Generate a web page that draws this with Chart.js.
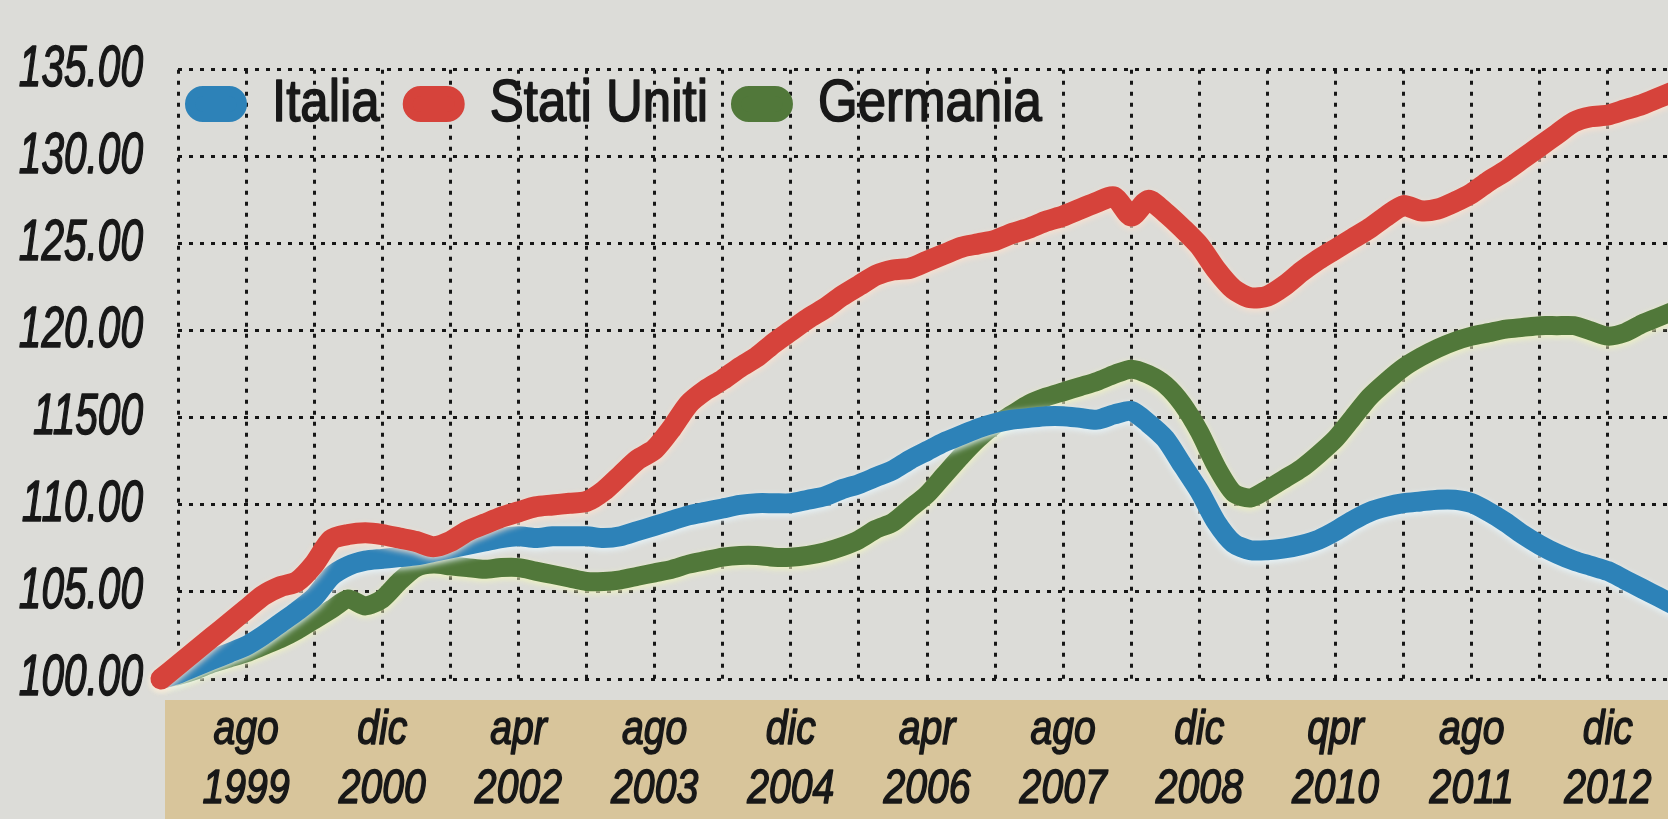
<!DOCTYPE html>
<html>
<head>
<meta charset="utf-8">
<script src="https://cdn.jsdelivr.net/npm/chart.js@4.4.0/dist/chart.umd.min.js"></script>
<style>
html, body { margin: 0; padding: 0; overflow: hidden; background: #dcdcd8; }
#wrap { position: relative; width: 1697px; height: 819px; }
</style>
</head>
<body>
<div id="wrap"><canvas id="c"></canvas></div>
<script>
// ---- data (2-month steps, from ott 1998) ----
const monthNames = ['gen','feb','mar','apr','mag','giu','lug','ago','set','ott','nov','dic'];
const categories = [];
for (let i = 0; i < 90; i++) {
  const t = 9 + 2 * i;
  categories.push(monthNames[t % 12] + ' ' + (1998 + Math.floor(t / 12)));
}

const italia = [
  100.0,100.3,100.7,101.1,101.5,101.9,102.5,103.2,103.9,104.7,
  105.9,106.5,106.8,106.9,107.0,107.1,107.3,107.5,107.7,107.9,
  108.1,108.2,108.1,108.2,108.2,108.2,108.1,108.2,108.5,108.8,
  109.1,109.4,109.6,109.8,110.0,110.1,110.1,110.1,110.3,110.5,
  110.9,111.2,111.6,112.0,112.6,113.1,113.6,114.0,114.4,114.7,
  114.9,115.0,115.1,115.1,115.0,114.9,115.2,115.4,114.7,113.8,
  112.3,110.8,109.0,107.8,107.4,107.4,107.5,107.7,108.0,108.5,
  109.1,109.6,109.9,110.1,110.2,110.3,110.3,110.1,109.6,109.0,
  108.3,107.7,107.2,106.8,106.5,106.2,105.7,105.2,104.7,104.2
];
const statiUniti = [
  100.0,100.8,101.6,102.4,103.2,104.0,104.8,105.3,105.6,106.6,
  108.0,108.3,108.4,108.3,108.1,107.9,107.6,107.9,108.5,108.9,
  109.3,109.6,109.9,110.0,110.1,110.2,110.8,111.7,112.6,113.2,
  114.4,115.8,116.6,117.2,117.9,118.5,119.3,120.0,120.7,121.3,
  122.0,122.6,123.2,123.5,123.6,124.0,124.4,124.8,125.0,125.2,
  125.6,125.9,126.3,126.6,127.0,127.4,127.7,126.6,127.5,126.8,
  125.9,124.9,123.5,122.4,121.9,122.0,122.6,123.4,124.1,124.7,
  125.3,125.9,126.6,127.2,126.9,127.0,127.4,127.9,128.6,129.2,
  129.9,130.6,131.3,132.0,132.3,132.4,132.7,133.0,133.4,133.8
];
const germania = [
  100.0,100.2,100.5,100.9,101.2,101.5,101.9,102.3,102.8,103.4,
  104.0,104.6,104.2,104.6,105.6,106.4,106.6,106.5,106.4,106.3,
  106.4,106.4,106.2,106.0,105.8,105.6,105.6,105.7,105.9,106.1,
  106.3,106.6,106.8,107.0,107.1,107.1,107.0,107.0,107.1,107.3,
  107.6,108.0,108.6,109.0,109.8,110.6,111.7,112.8,113.8,114.6,
  115.2,115.8,116.2,116.5,116.8,117.1,117.5,117.8,117.5,116.9,
  115.8,114.2,112.2,110.7,110.4,110.9,111.5,112.1,112.9,113.8,
  115.0,116.2,117.1,117.9,118.5,119.0,119.4,119.7,119.9,120.1,
  120.2,120.3,120.3,120.3,120.0,119.7,119.9,120.4,120.8,121.2
];

const xTickMonths = ['ago','dic','apr','ago','dic','apr','ago','dic','qpr','ago','dic'];
const xTickYears  = ['1999','2000','2002','2003','2004','2006','2007','2008','2010','2011','2012'];
const yTickLabels = ['100.00','105.00','110.00','11500','120.00','125.00','130.00','135.00'];

// ---- styling ----
const FONT = "'Liberation Sans', Arimo, Arial, sans-serif";
const INK = '#181818';
const GRID = '#161616';

// condensed newspaper lettering: squeeze text horizontally per font size, slightly heavier strokes
const TEXT_SQUEEZE = { 58: 0.70, 49: 0.80, 60: 0.85 };
const TEXT_WEIGHT_STROKE = 1.6;
const canvas = document.getElementById('c');
const ctx2d = canvas.getContext('2d');
const nativeFill = ctx2d.fillText.bind(ctx2d);
const nativeStroke = ctx2d.strokeText.bind(ctx2d);
const nativeMeasure = ctx2d.measureText.bind(ctx2d);
function squeezeFactor() {
  const m = /(\d+(?:\.\d+)?)px/.exec(ctx2d.font);
  const s = m ? Math.round(parseFloat(m[1])) : 0;
  return TEXT_SQUEEZE[s] || 1;
}
ctx2d.measureText = function (t) {
  const r = nativeMeasure(t);
  return { width: r.width * squeezeFactor(), actualBoundingBoxAscent: r.actualBoundingBoxAscent, actualBoundingBoxDescent: r.actualBoundingBoxDescent };
};
ctx2d.fillText = function (t, x, y, mw) {
  const w = nativeMeasure(t).width * squeezeFactor();
  const W = (mw !== undefined && mw !== null) ? Math.min(mw, w) : w;
  nativeFill(t, x, y, W);
  ctx2d.save();
  ctx2d.strokeStyle = ctx2d.fillStyle;
  ctx2d.lineWidth = TEXT_WEIGHT_STROKE;
  ctx2d.lineJoin = 'round';
  ctx2d.setLineDash([]);
  nativeStroke(t, x, y, W);
  ctx2d.restore();
};

const bgPlugin = {
  id: 'bg',
  beforeDraw(chart) {
    const { ctx, width, height } = chart;
    ctx.save();
    ctx.fillStyle = '#dcdcd8';
    ctx.fillRect(0, 0, width, height);
    ctx.fillStyle = '#d8c59b';
    ctx.fillRect(165, 700, width - 165, height - 700);
    ctx.restore();
  }
};
const legendPlace = {
  id: 'legendPlace',
  afterLayout(chart) {
    const l = chart.legend;
    if (!l) return;
    l.left = 162;
    l.right = chart.width;
    l.top = 46;
    l.bottom = l.top + 110;
  }
};
const halo = {
  id: 'halo',
  beforeDatasetDraw(chart, args) {
    const ds = chart.data.datasets[args.index];
    const ctx = chart.ctx;
    ctx.save();
    ctx.shadowColor = ds.haloColor || 'rgba(0,0,0,0)';
    ctx.shadowBlur = 6;
    ctx.shadowOffsetX = 0;
    ctx.shadowOffsetY = 2;
  },
  afterDatasetDraw(chart) {
    chart.ctx.restore();
  }
};

new Chart(canvas, {
  type: 'line',
  data: {
    labels: categories,
    datasets: [
      { label: 'Italia', data: italia, borderColor: '#2d82b8', backgroundColor: '#2d82b8', borderWidth: 20, order: 2, haloColor: 'rgba(232,248,255,0.95)' },
      { label: 'Stati Uniti', data: statiUniti, borderColor: '#d6433b', backgroundColor: '#d6433b', borderWidth: 21, order: 1, haloColor: 'rgba(255,226,205,0.95)' },
      { label: 'Germania', data: germania, borderColor: '#51783a', backgroundColor: '#51783a', borderWidth: 19, order: 3, haloColor: 'rgba(240,246,190,0.95)' }
    ]
  },
  options: {
    responsive: true,
    maintainAspectRatio: false,
    animation: false,
    layout: { padding: { top: 44, left: 0, right: 0, bottom: 0 } },
    datasets: { line: { clip: false, pointRadius: 0, tension: 0.25, borderCapStyle: 'round', borderJoinStyle: 'round' } },
    plugins: {
      tooltip: { enabled: false },
      legend: {
        display: true,
        position: 'top',
        align: 'start',
        maxHeight: 1,
        labels: {
          font: { family: FONT, size: 60 },
          color: INK,
          boxWidth: 52,
          boxHeight: 26,
          padding: 28,
          useBorderRadius: true,
          borderRadius: 13,
          sort: (a, b) => a.datasetIndex - b.datasetIndex,
          generateLabels(chart) {
            const items = Chart.defaults.plugins.legend.labels.generateLabels(chart);
            items.forEach(it => { it.lineWidth = 10; it.strokeStyle = it.fillStyle; it.borderRadius = 13; });
            return items;
          }
        }
      }
    },
    scales: {
      x: {
        type: 'category',
        min: categories[1],
        max: categories[89],
        afterFit(scale) { scale.height = 140; },
        border: { display: false, dash: [4, 7] },
        grid: {
          drawTicks: false,
          lineWidth: 3,
          color: (ctx) => (ctx.tick && (ctx.tick.value - 1) % 4 === 0) ? GRID : 'rgba(0,0,0,0)'
        },
        ticks: {
          autoSkip: false,
          maxRotation: 0,
          minRotation: 0,
          padding: 21,
          color: INK,
          font: { family: FONT, size: 49, style: 'italic', lineHeight: 1.22 },
          callback(value) {
            const k = value - 5;
            if (k >= 0 && k % 8 === 0) {
              const j = k / 8;
              if (j < xTickMonths.length) return [xTickMonths[j], xTickYears[j]];
            }
            return '';
          }
        }
      },
      y: {
        min: 100,
        max: 135,
        afterFit(scale) { scale.width = 178; },
        border: { display: false, dash: [4, 7] },
        grid: { drawTicks: false, lineWidth: 3, color: GRID },
        ticks: {
          stepSize: 5,
          padding: 35,
          color: INK,
          font: { family: FONT, size: 58, style: 'italic' },
          callback(value) {
            const i = Math.round((value - 100) / 5);
            return yTickLabels[i] !== undefined ? yTickLabels[i] : '';
          }
        }
      }
    }
  },
  plugins: [bgPlugin, legendPlace, halo]
});
</script>
</body>
</html>
